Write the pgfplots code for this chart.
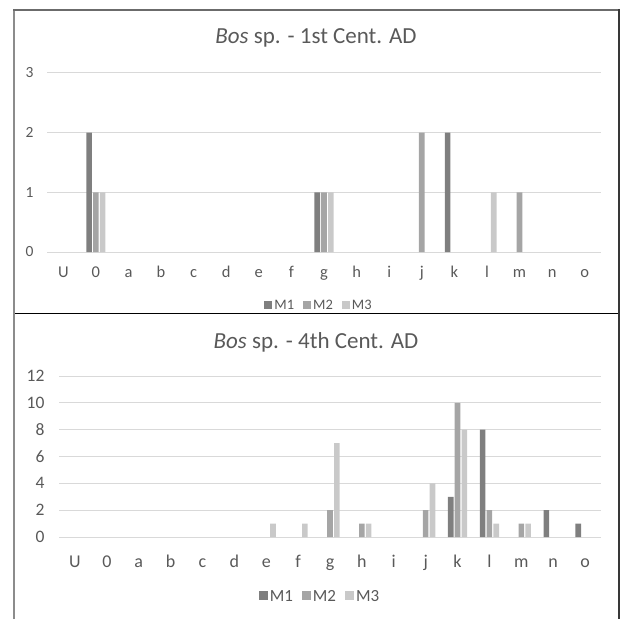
\documentclass[border=0pt]{standalone}
\usepackage{pgfplots}
\pgfplotsset{compat=1.18}
\usepackage{fontspec}
\setmainfont{Carlito}
\definecolor{txt}{HTML}{595959}
\definecolor{cM1}{HTML}{7F7F7F}
\definecolor{cM2}{HTML}{A5A5A5}
\definecolor{cM3}{HTML}{C9C9C9}
\definecolor{grid}{HTML}{D9D9D9}
\pgfplotsset{
  excelbar/.style={
    scale only axis,
    xmin=-0.5, xmax=16.5,
    xtick={0,...,16},
    xticklabels={U,0,a,b,c,d,e,f,g,h,i,j,k,l,m,n,o},
    ymin=0,
    axis line style={draw=none},
    major tick length=0pt,
    ymajorgrids,
    major grid style={draw=grid, line width=1pt},
    ybar=1.2pt, bar width=5.6pt,
    unbounded coords=discard,
    y filter/.expression={y==0 ? nan : y},
    /pgf/number format/assume math mode=true,
    every tick label/.append style={text=txt},
    legend columns=3,
    legend style={draw=none, fill=none, text=txt, anchor=center,
      /tikz/every even column/.append style={column sep=7pt}},
    title style={text=txt, font=\fontsize{23}{26}\selectfont, anchor=center, at={(0.5,1)}},
  }
}
\begin{document}
\begin{tikzpicture}
\useasboundingbox (0pt,0pt) rectangle (620pt,619pt);
% panel borders
\draw[color=black, line width=0.9pt] (14pt,306pt) -- (619pt,306pt);
\draw[color=black!45, line width=1.8pt] (14pt,0pt) -- (14pt,609pt);
\draw[color=black!58, line width=1.8pt] (13pt,609pt) -- (619pt,609pt);
\draw[color=black!78, line width=1.8pt] (619pt,610pt) -- (619pt,0pt);

\begin{axis}[excelbar,
  at={(47pt,367pt)}, anchor=south west,
  width=554pt, height=179pt,
  ymax=3, ytick={0,1,2,3},
  title={\textit{Bos} sp. - 1st Cent. AD},
  title style={xshift=-8pt, yshift=29pt},
  yticklabel style={anchor=east, xshift=-10pt, font=\fontsize{15.5}{18}\selectfont},
  xticklabel style={anchor=base, yshift=-25pt, font=\fontsize{16.5}{19}\selectfont},
  legend style={at={(0.5,0)}, xshift=-5pt, yshift=-54pt, font=\fontsize{14.5}{17}\selectfont},
  legend image code/.code={\fill[#1] (0pt,-3pt) rectangle (8pt,5pt);},
]
\addplot[fill=cM1, draw=none] coordinates {(0,0) (1,2) (2,0) (3,0) (4,0) (5,0) (6,0) (7,0) (8,1) (9,0) (10,0) (11,0) (12,2) (13,0) (14,0) (15,0) (16,0)};
\addplot[fill=cM2, draw=none] coordinates {(0,0) (1,1) (2,0) (3,0) (4,0) (5,0) (6,0) (7,0) (8,1) (9,0) (10,0) (11,2) (12,0) (13,0) (14,1) (15,0) (16,0)};
\addplot[fill=cM3, draw=none] coordinates {(0,0) (1,1) (2,0) (3,0) (4,0) (5,0) (6,0) (7,0) (8,1) (9,0) (10,0) (11,0) (12,0) (13,1) (14,0) (15,0) (16,0)};
\legend{M1,M2,M3}
\end{axis}

\begin{axis}[excelbar,
  at={(59pt,82pt)}, anchor=south west,
  width=542pt, height=161pt,
  ymax=12, ytick={0,2,...,12},
  title={\textit{Bos} sp. - 4th Cent. AD},
  title style={xshift=-14pt, yshift=28pt},
  yticklabel style={anchor=east, xshift=-11pt, font=\fontsize{17.5}{20}\selectfont},
  xticklabel style={anchor=base, yshift=-30pt, font=\fontsize{18}{21}\selectfont},
  legend style={at={(0.5,0)}, xshift=-10pt, yshift=-60pt, font=\fontsize{17}{20}\selectfont},
  legend image code/.code={\fill[#1] (0pt,-3.3pt) rectangle (9pt,5.7pt);},
]
\addplot[fill=cM1, draw=none] coordinates {(0,0) (1,0) (2,0) (3,0) (4,0) (5,0) (6,0) (7,0) (8,0) (9,0) (10,0) (11,0) (12,3) (13,8) (14,0) (15,2) (16,1)};
\addplot[fill=cM2, draw=none] coordinates {(0,0) (1,0) (2,0) (3,0) (4,0) (5,0) (6,0) (7,0) (8,2) (9,1) (10,0) (11,2) (12,10) (13,2) (14,1) (15,0) (16,0)};
\addplot[fill=cM3, draw=none] coordinates {(0,0) (1,0) (2,0) (3,0) (4,0) (5,0) (6,1) (7,1) (8,7) (9,1) (10,0) (11,4) (12,8) (13,1) (14,1) (15,0) (16,0)};
\legend{M1,M2,M3}
\end{axis}
\end{tikzpicture}
\end{document}
